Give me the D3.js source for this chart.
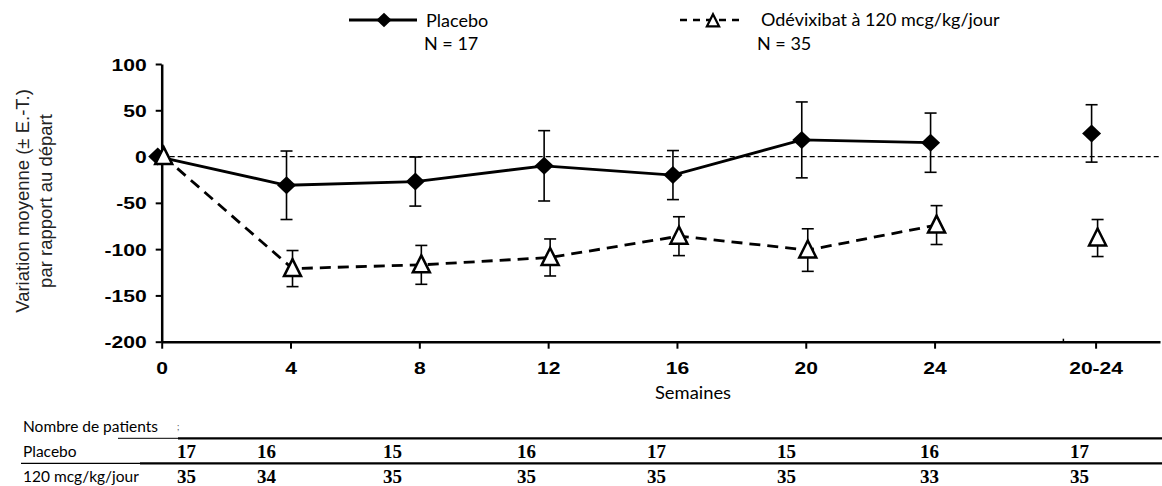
<!DOCTYPE html>
<html>
<head>
<meta charset="utf-8">
<script src="https://cdn.jsdelivr.net/npm/d3@7"></script>
<style>
  body { margin: 0; background: #fff; }
</style>
</head>
<body>
<div id="chart"></div>
<script>
// ---- data ----
const timepoints = ["0", "4", "8", "12", "16", "20", "24", "20-24"];
const placeboMean = [0, -31, -27, -10, -20, 18, 15, 25];
const placeboSE = [0, 37, 26.5, 38, 26.5, 41, 32, 31];
const odevMean = [0, -121, -117, -109, -86, -101, -74, -88];
const odevSE = [0, 19.5, 21, 20, 21, 23, 21, 20];
const yTicks = [100, 50, 0, -50, -100, -150, -200];

const legendLabels = ["Placebo", "Odévixibat à 120 mcg/kg/jour"];
const legendN = ["N = 17", "N = 35"];

const tableTitle = "Nombre de patients";
const tableRowLabels = ["Placebo", "120 mcg/kg/jour"];
const placeboN = [17, 16, 15, 16, 17, 15, 16, 17];
const odevN = [35, 34, 35, 35, 35, 35, 33, 35];

// ---- layout ----
const W = 1162, H = 486;
const SX = 1.24;           // the chart part of the picture is stretched sideways
const pooledWeek = 29;     // where the pooled "20-24" column sits on the week axis
const connected = 7;       // only weeks 0..24 are joined by a line
const tableCols = [177, 257, 383, 517, 647, 777, 920, 1070];

const weekPos = t => t === "20-24" ? pooledWeek : +t;

const svg = d3.select("#chart").append("svg")
    .attr("width", W)
    .attr("height", H);

const x = d3.scaleLinear().domain([0, 31]).range([161.7, 1160]);
const y = d3.scaleLinear().domain([-200, 100]).range([341.7, 64]);

const arial = "'Liberation Sans', Arial, sans-serif";
const calibri = "Lato, 'Open Sans', sans-serif";

// zero reference line
svg.append("line")
    .attr("x1", x(0)).attr("x2", x.range()[1])
    .attr("y1", y(0)).attr("y2", y(0))
    .attr("stroke", "#000")
    .attr("stroke-width", 1.2)
    .attr("stroke-dasharray", "5,3");

// y axis
const yAxis = svg.append("g")
    .attr("transform", `translate(${x(0)},0)`)
    .call(d3.axisLeft(y).tickValues(yTicks).tickSize(6).tickSizeOuter(0).tickFormat(d => String(d)));
yAxis.select(".domain").attr("stroke-width", 2.5);
yAxis.selectAll(".tick line").attr("stroke-width", 2);
yAxis.selectAll(".tick text")
    .attr("x", null).attr("dy", "0.36em")
    .attr("transform", `translate(-15,0) scale(${SX},1)`)
    .attr("font-family", arial)
    .attr("font-weight", "bold")
    .attr("font-size", 17)
    .attr("fill", "#000");

// x axis
const xAxis = svg.append("g")
    .attr("transform", `translate(0,${y(-200)})`)
    .call(d3.axisBottom(x)
        .tickValues(timepoints.map(weekPos))
        .tickSize(7).tickSizeOuter(0)
        .tickFormat((d, i) => timepoints[i]));
xAxis.select(".domain").attr("stroke-width", 2.5);
xAxis.selectAll(".tick line").attr("stroke-width", 2);
xAxis.selectAll(".tick text")
    .attr("y", null).attr("dy", null)
    .attr("transform", `translate(0,32) scale(${SX},1)`)
    .attr("font-family", arial)
    .attr("font-weight", "bold")
    .attr("font-size", 17)
    .attr("fill", "#000");
// small mark between 24 and 20-24
svg.append("line")
    .attr("x1", x(28)).attr("x2", x(28))
    .attr("y1", y(-200) - 3).attr("y2", y(-200))
    .attr("stroke", "#000").attr("stroke-width", 1.5);

svg.append("text")
    .attr("transform", "translate(693,399) scale(1.08,1)")
    .attr("text-anchor", "middle")
    .attr("font-family", calibri)
    .attr("font-size", 17)
    .text("Semaines");

// y axis title
[["Variation moyenne (± E.-T.)", 22], ["par rapport au départ", 45]].forEach(([t, cx]) => {
    svg.append("text")
        .attr("transform", `translate(${cx},201) rotate(-90)`)
        .attr("text-anchor", "middle")
        .attr("dominant-baseline", "central")
        .attr("font-family", arial)
        .attr("font-size", 18.5)
        .attr("fill", "#222")
        .text(t);
});

// ---- series ----
const series = [
    { mean: placeboMean, se: placeboSE, dx: -4, dash: null, marker: "diamond" },
    { mean: odevMean, se: odevSE, dx: 2, dash: "11,7", marker: "triangle" }
];
const diamond = s => `M0,${-9 * s}L${9.5 * s},0L0,${9 * s}L${-9.5 * s},0Z`;
const triangle = s => `M0,${-9.5 * s}L${8.5 * s},${7.5 * s}L${-8.5 * s},${7.5 * s}Z`;

const px = (s, i) => x(weekPos(timepoints[i])) + s.dx;

const line = d3.line()
    .x(d => d.x)
    .y(d => d.y);

series.forEach(s => {
    const pts = s.mean.slice(0, connected).map((m, i) => ({ x: px(s, i), y: y(m) }));
    svg.append("path")
        .attr("d", line(pts))
        .attr("fill", "none")
        .attr("stroke", "#000")
        .attr("stroke-width", 2.8)
        .attr("stroke-dasharray", s.dash);
});

series.forEach(s => {
    const g = svg.append("g").attr("stroke", "#000").attr("stroke-width", 1.6);
    s.mean.forEach((m, i) => {
        if (!s.se[i]) return;
        const cx = px(s, i);
        g.append("line").attr("x1", cx).attr("x2", cx).attr("y1", y(m + s.se[i])).attr("y2", y(m - s.se[i]));
        g.append("line").attr("x1", cx - 6).attr("x2", cx + 6).attr("y1", y(m + s.se[i])).attr("y2", y(m + s.se[i]));
        g.append("line").attr("x1", cx - 6).attr("x2", cx + 6).attr("y1", y(m - s.se[i])).attr("y2", y(m - s.se[i]));
    });
});

series.forEach(s => {
    svg.append("g").selectAll("path")
        .data(s.mean)
        .join("path")
        .attr("transform", (m, i) => `translate(${px(s, i)},${y(m)})`)
        .attr("d", s.marker === "diamond" ? diamond(1) : triangle(1))
        .attr("fill", s.marker === "diamond" ? "#000" : "#fff")
        .attr("stroke", s.marker === "diamond" ? "none" : "#000")
        .attr("stroke-width", 2.5)
        .attr("stroke-linejoin", "miter");
});

// ---- legend ----
const leg = svg.append("g");
leg.append("line").attr("x1", 349).attr("x2", 417).attr("y1", 20).attr("y2", 20)
    .attr("stroke", "#000").attr("stroke-width", 2.8);
leg.append("path").attr("transform", "translate(384,20)").attr("d", diamond(0.8)).attr("fill", "#000");
leg.append("line").attr("x1", 680).attr("x2", 744).attr("y1", 20).attr("y2", 20)
    .attr("stroke", "#000").attr("stroke-width", 2.5).attr("stroke-dasharray", "7,6");
leg.append("path").attr("transform", "translate(713,21)").attr("d", triangle(0.72))
    .attr("fill", "#fff").attr("stroke", "#000").attr("stroke-width", 2.2);
[[legendLabels[0], 426, 27], [legendN[0], 424, 50], [legendLabels[1], 761, 26], [legendN[1], 757, 50]]
    .forEach(([t, lx, ly]) => {
        leg.append("text")
            .attr("x", lx).attr("y", ly)
            .attr("font-family", calibri)
            .attr("font-size", 18)
            .text(t);
    });

// ---- patient count table ----
const tbl = svg.append("g");
tbl.append("text").attr("x", 23).attr("y", 432)
    .attr("font-family", calibri).attr("font-size", 15.5).text(tableTitle);
tbl.append("text").attr("x", 177).attr("y", 430)
    .attr("font-family", calibri).attr("font-size", 9).attr("fill", "#555").text(";");
tableRowLabels.forEach((t, r) => {
    tbl.append("text").attr("x", 23).attr("y", 457 + r * 25)
        .attr("font-family", calibri).attr("font-size", 15.5).text(t);
});
// rules
tbl.append("line").attr("x1", 118).attr("x2", 178).attr("y1", 438.3).attr("y2", 438.3)
    .attr("stroke", "#000").attr("stroke-width", 1);
tbl.append("line").attr("x1", 178).attr("x2", W).attr("y1", 438.3).attr("y2", 438.3)
    .attr("stroke", "#000").attr("stroke-width", 2.2);
tbl.append("line").attr("x1", 21).attr("x2", 140).attr("y1", 463.3).attr("y2", 463.3)
    .attr("stroke", "#000").attr("stroke-width", 1.2);
tbl.append("line").attr("x1", 140).attr("x2", W).attr("y1", 463.3).attr("y2", 463.3)
    .attr("stroke", "#000").attr("stroke-width", 2.2);

[placeboN, odevN].forEach((row, r) => {
    tbl.append("g").selectAll("text")
        .data(row)
        .join("text")
        .attr("x", (d, i) => tableCols[i])
        .attr("y", 458 + r * 25)
        .attr("font-family", "'Liberation Serif', 'Times New Roman', serif")
        .attr("font-weight", "bold")
        .attr("font-size", 19)
        .text(d => d);
});
</script>
</body>
</html>
